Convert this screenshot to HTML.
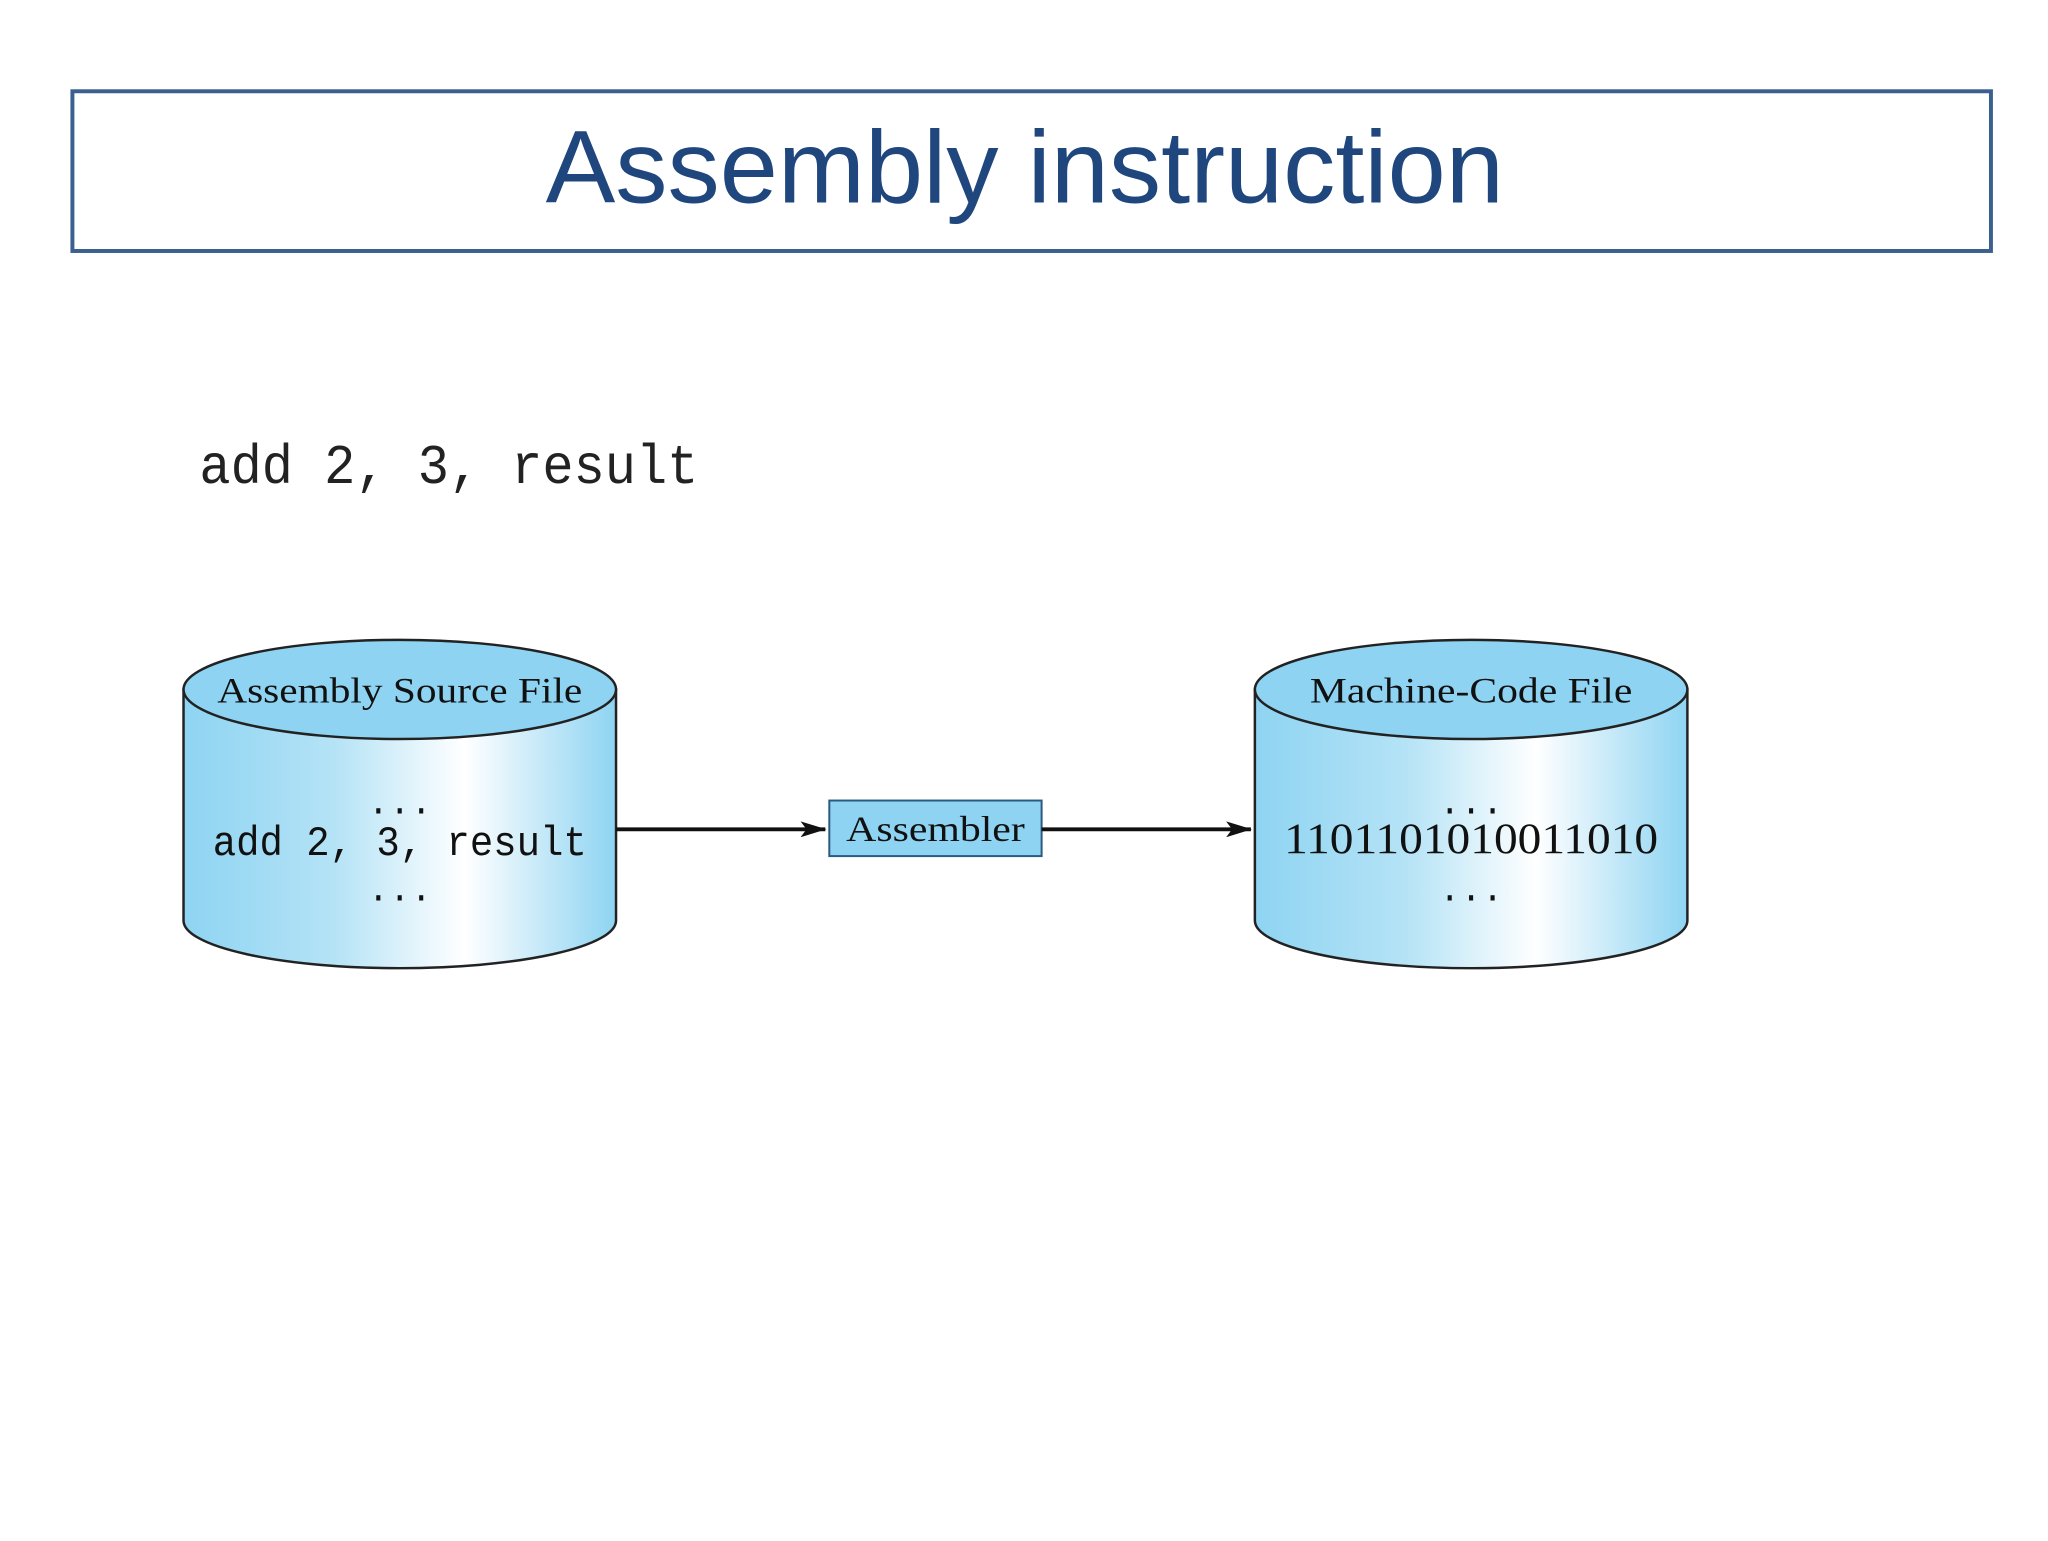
<!DOCTYPE html>
<html><head><meta charset="utf-8"><style>html,body{margin:0;padding:0;background:#fff}</style></head>
<body>
<svg width="2048" height="1536" viewBox="0 0 2048 1536" xmlns="http://www.w3.org/2000/svg">
<defs>
<linearGradient id="g" x1="0" y1="0" x2="1" y2="0">
<stop offset="0" stop-color="#8ed4f2"/>
<stop offset="0.35" stop-color="#b5e3f6"/>
<stop offset="0.65" stop-color="#ffffff"/>
<stop offset="1" stop-color="#8ed4f2"/>
</linearGradient>
<marker id="ar" markerWidth="26" markerHeight="16" refX="25" refY="8" orient="auto" markerUnits="userSpaceOnUse">
<path d="M0,0 L26,8 L0,16 L6,8 Z" fill="#111"/>
</marker>
</defs>
<g transform="scale(0.992)">
<rect x="73" y="92" width="1934" height="161" fill="none" stroke="#3b5f8f" stroke-width="4"/>
<text x="1033" y="204" font-family="Liberation Sans, sans-serif" font-size="104" fill="#1f477e" text-anchor="middle" textLength="966" lengthAdjust="spacingAndGlyphs">Assembly instruction</text>
<text x="201" y="487" font-family="Liberation Mono, monospace" font-size="56" fill="#222" textLength="503" lengthAdjust="spacingAndGlyphs">add 2, 3, result</text>

<path d="M185,695 L185,928 A218,48 0 0 0 621,928 L621,695 Z" fill="url(#g)" stroke="#222" stroke-width="2.5"/>
<ellipse cx="403" cy="695" rx="218" ry="50" fill="#8ed4f2" stroke="#222" stroke-width="2.5"/>
<path d="M1265,695 L1265,928 A218,48 0 0 0 1701,928 L1701,695 Z" fill="url(#g)" stroke="#222" stroke-width="2.5"/>
<ellipse cx="1483" cy="695" rx="218" ry="50" fill="#8ed4f2" stroke="#222" stroke-width="2.5"/>

<g font-family="Liberation Serif, serif" fill="#111">
<text x="403" y="708" font-size="36" text-anchor="middle" textLength="368" lengthAdjust="spacingAndGlyphs">Assembly Source File</text>
<text x="1483" y="708" font-size="36" text-anchor="middle" textLength="325" lengthAdjust="spacingAndGlyphs">Machine-Code File</text>
<text x="1483" y="860" font-size="44" text-anchor="middle" textLength="377" lengthAdjust="spacingAndGlyphs">1101101010011010</text>
</g>
<g font-family="Liberation Mono, monospace" fill="#111">
<text x="403" y="820" font-size="36" text-anchor="middle">...</text>
<text x="403" y="862" font-size="42" text-anchor="middle" textLength="377" lengthAdjust="spacingAndGlyphs">add 2, 3, result</text>
<text x="403" y="908" font-size="36" text-anchor="middle">...</text>
<text x="1483" y="820" font-size="36" text-anchor="middle">...</text>
<text x="1483" y="908" font-size="36" text-anchor="middle">...</text>
</g>

<line x1="621" y1="836" x2="832" y2="836" stroke="#111" stroke-width="4" marker-end="url(#ar)"/>
<rect x="836" y="807" width="214" height="56" fill="#8ed4f2" stroke="#2a5a80" stroke-width="2"/>
<text x="943" y="848" font-family="Liberation Serif, serif" font-size="36" fill="#111" text-anchor="middle" textLength="180" lengthAdjust="spacingAndGlyphs">Assembler</text>
<line x1="1050" y1="836" x2="1261" y2="836" stroke="#111" stroke-width="4" marker-end="url(#ar)"/>
</g>
</svg>
</body></html>
